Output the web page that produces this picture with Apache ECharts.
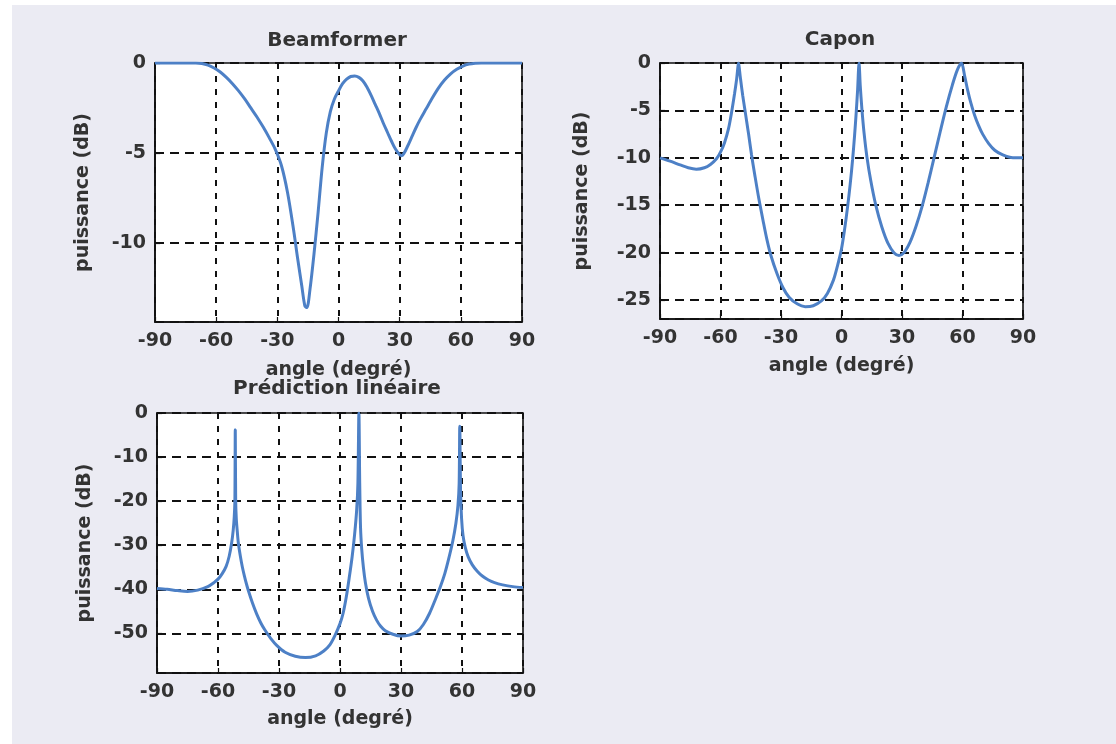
<!DOCTYPE html>
<html>
<head>
<meta charset="utf-8">
<title>Spectres spatiaux</title>
<script src="https://cdn.jsdelivr.net/npm/echarts@6/dist/echarts.min.js"></script>
<style>
  html, body { margin: 0; padding: 0; background: #ffffff; }
  #chart { width: 1116px; height: 744px; }
</style>
</head>
<body>
<div id="chart"></div>
<script>
// Angular power spectra (dB) of three direction-of-arrival estimators.

// Beamformer (formation de voies classique)
const bfAngle = [-90, -80, -70, -67, -64, -61, -58, -55, -52, -49, -46, -43, -40, -37, -34, -31,
  -28, -25, -22, -20, -18, -16.5, -15.5, -14, -12, -10, -8, -6, -4, -2, 0, 2, 4, 6, 8, 10, 12, 14, 16, 18,
  20, 22, 24, 26, 28, 30, 31, 32, 34, 36, 38, 40, 43, 46, 49, 52, 55, 58, 61, 64, 67, 70, 80, 90];
const bfPower = [0, 0, 0, -0.03, -0.12, -0.28, -0.5, -0.8, -1.15, -1.55, -2.0, -2.5, -3.0, -3.55, -4.15, -4.8,
  -5.7, -7.2, -9.3, -10.9, -12.4, -13.5, -13.6, -12.6, -10.6, -8.3, -5.8, -3.9, -2.7, -2.0, -1.55, -1.15, -0.9, -0.75, -0.72, -0.8, -1.0, -1.35, -1.8, -2.3,
  -2.8, -3.35, -3.85, -4.35, -4.8, -5.1, -5.15, -5.05, -4.6, -4.1, -3.6, -3.15, -2.55, -1.95, -1.4, -0.95, -0.6, -0.35, -0.17, -0.06, -0.01, 0, 0, 0];

// Capon (minimum variance)
const caponAngle = [-90, -85, -80, -76, -72, -68, -65, -62, -60, -58, -56, -54.5, -53, -52, -51,
  -50.5, -50, -49, -48, -47, -46, -44.6, -43, -41, -39, -37, -35, -32, -29, -26, -22, -18, -14, -10, -7, -4, -2,
  0, 1.5, 3, 4.3, 5.5, 6.5, 7.3, 8, 8.7, 9.3, 10.1, 11.2, 12.6, 14.5, 17, 20, 23, 26, 28.5, 31, 34, 37, 40, 43, 46, 49,
  52, 55, 57.5, 59.5, 61, 62.5, 64, 66, 68, 70, 73, 76, 80, 85, 90];
const caponPower = [-10, -10.35, -10.75, -11.05, -11.2, -11.05, -10.7, -10.1, -9.4, -8.4, -6.9, -5.2, -3.2, -1.7, 0,
  -0.9, -1.8, -3.4, -4.8, -6.2, -7.6, -9.7, -11.8, -14.3, -16.5, -18.6, -20.3, -22.2, -23.7, -24.7, -25.4, -25.7, -25.6, -25.1, -24.3, -22.9, -21.4,
  -19.6, -17.6, -15.2, -12.8, -10.2, -7.6, -5.2, -2.8, 0, -2.4, -4.8, -7.4, -9.9, -12.4, -15, -17.3, -19, -20, -20.3, -20, -18.9, -17.2, -15.1, -12.6, -9.9, -7.2,
  -4.6, -2.3, -0.7, 0, -1.3, -2.8, -4.1, -5.5, -6.6, -7.5, -8.5, -9.2, -9.7, -10, -10];

// Prédiction linéaire
const lpAngle = [-90, -85, -80, -75, -70, -65, -62, -60, -58, -56, -54.5, -53.3, -52.5, -52, -51.7, -51.5,
  -51.3, -51, -50.5, -50, -49, -48, -47, -46, -45, -43, -41, -39, -37, -34, -31, -27, -22, -17, -12, -8, -5, -2.5,
  0, 1.5, 3, 4.5, 6, 7.2, 8.2, 8.8, 9.3, 9.7, 10.1, 10.7, 11.5, 12.5, 14, 16, 18, 20, 22.3, 26, 30, 34, 38, 41, 44, 47,
  49.3, 51.5, 53.5, 55.5, 57, 58, 58.6, 58.9, 59.3, 59.8, 60.5, 61.6, 63, 65, 67.5, 70, 73, 76, 80, 85, 90];
const lpPower = [-39.8, -40, -40.3, -40.5, -40.2, -39.4, -38.5, -37.7, -36.5, -34.8, -32.5, -29.5, -26.5, -23.5, -20, -3.8,
  -20, -24, -27, -29.5, -32.5, -35, -37, -38.8, -40.4, -43.2, -45.6, -47.6, -49.2, -51.2, -52.8, -54.3, -55.2, -55.5, -55.1, -54, -52.6, -50.5,
  -47.8, -45.5, -42, -37.5, -32.5, -27.5, -22, -16, 0, -16, -26, -31, -35, -38.5, -42, -45, -47, -48.4, -49.4, -50.2, -50.6, -50.4, -49.6, -48, -45.5, -42.2,
  -39.5, -36.5, -33, -29, -25, -21, -16, -3, -18, -24, -27.8, -30.5, -32.6, -34.4, -35.9, -37, -37.9, -38.5, -39, -39.4, -39.6];

const xTicks = [-90, -60, -30, 0, 30, 60, 90];

const FONT = 'DejaVu Sans';
const INK = '#333333';
const LINE = '#4d80c6';

const pairs = (xs, ys) => xs.map((x, i) => [x, ys[i]]);

const labelFont = { fontFamily: FONT, fontSize: 19, fontWeight: 'bold', color: INK };

function xAxisFor(gridIndex, nameGap) {
  return {
    type: 'value', gridIndex,
    min: xTicks[0], max: xTicks[xTicks.length - 1], interval: 30,
    name: 'angle (degré)', nameLocation: 'middle', nameGap,
    nameTextStyle: labelFont,
    axisLine: { onZero: false, lineStyle: { color: '#111', width: 1.6 } },
    axisTick: { inside: true, length: 5, lineStyle: { color: '#111', width: 1.2 } },
    axisLabel: Object.assign({ margin: 10 }, labelFont),
    splitLine: { show: true, lineStyle: { color: '#111', width: 2, type: [6, 7] } }
  };
}

function yAxisFor(gridIndex, min, step, nameGap) {
  return {
    type: 'value', gridIndex,
    min, max: 0,
    splitNumber: Math.round(-min / step),
    minInterval: step, maxInterval: step,
    name: 'puissance (dB)', nameLocation: 'middle', nameGap,
    nameTextStyle: labelFont,
    axisLine: { onZero: false, lineStyle: { color: '#111', width: 1.6 } },
    axisTick: { inside: true, length: 5, lineStyle: { color: '#111', width: 1.2 } },
    axisLabel: Object.assign({ margin: 9, showMinLabel: false }, labelFont),
    splitLine: { show: true, lineStyle: { color: '#111', width: 2, type: [9, 6] } }
  };
}

function curve(name, idx, xs, ys) {
  return {
    name, type: 'line', xAxisIndex: idx, yAxisIndex: idx,
    data: pairs(xs, ys),
    showSymbol: false, smooth: 0.3,
    lineStyle: { color: LINE, width: 3 },
    clip: true, z: 3
  };
}

function titleText(text, x, y) {
  return {
    type: 'text', x, y,
    style: { text, fontFamily: FONT, fontSize: 20, fontWeight: 'bold', fill: INK, textAlign: 'center', textVerticalAlign: 'middle' }
  };
}

const gridBox = { show: true, backgroundColor: '#ffffff', borderColor: '#111', borderWidth: 1.6, containLabel: false };

const chart = echarts.init(document.getElementById('chart'), null, { renderer: 'canvas' });
chart.setOption({
  backgroundColor: '#ebebf3',
  animation: false,
  grid: [
    Object.assign({ left: 155, top: 63, width: 367, height: 259 }, gridBox),
    Object.assign({ left: 660, top: 63, width: 363, height: 256 }, gridBox),
    Object.assign({ left: 157, top: 413, width: 366, height: 260 }, gridBox)
  ],
  xAxis: [xAxisFor(0, 39), xAxisFor(1, 38), xAxisFor(2, 37)],
  yAxis: [yAxisFor(0, -14.4, 5, 62), yAxisFor(1, -27, 5, 68), yAxisFor(2, -59, 10, 62)],
  series: [
    curve('Beamformer', 0, bfAngle, bfPower),
    curve('Capon', 1, caponAngle, caponPower),
    curve('Prédiction linéaire', 2, lpAngle, lpPower)
  ],
  graphic: [
    { type: 'rect', shape: { x: 0, y: 0, width: 12, height: 744 }, style: { fill: '#ffffff' }, silent: true },
    { type: 'rect', shape: { x: 0, y: 0, width: 1116, height: 5 }, style: { fill: '#ffffff' }, silent: true },
    titleText('Beamformer', 337, 41),
    titleText('Capon', 840, 40),
    titleText('Prédiction linéaire', 337, 389)
  ]
});
</script>
</body>
</html>
